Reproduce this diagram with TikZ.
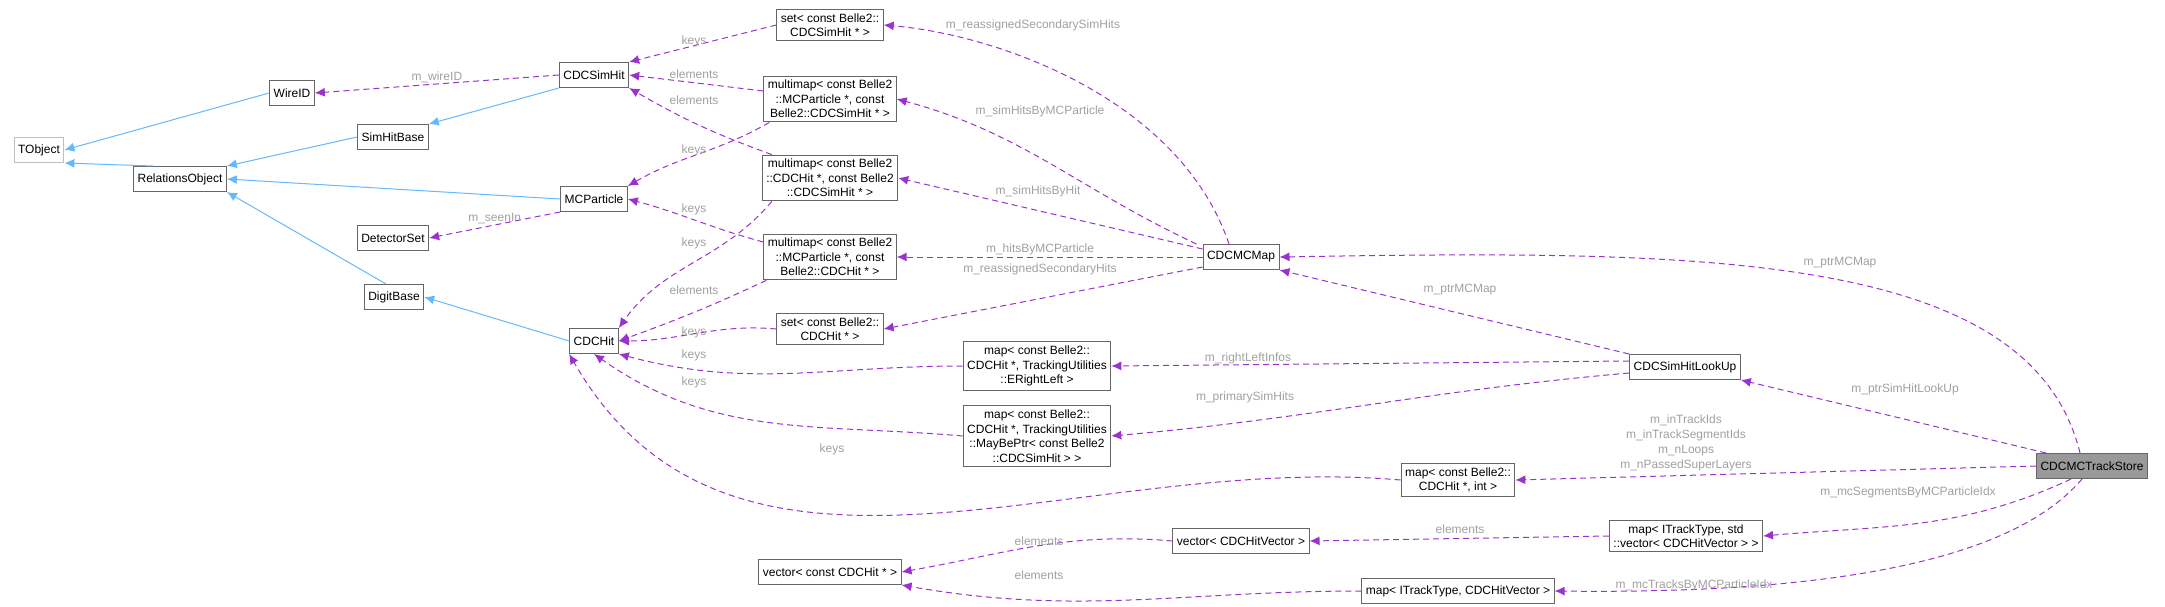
\documentclass[tikz,border=0pt]{standalone}
\usepackage{fontspec}
\setmainfont{Liberation Sans}
\usetikzlibrary{arrows.meta}
\definecolor{pur}{HTML}{9A32CD}
\definecolor{blu}{HTML}{63B8FF}
\definecolor{lab}{HTML}{A0A0A0}
\begin{document}
\begin{tikzpicture}[x=1pt,y=-1pt,
 box/.style={draw=black!60,line width=1pt,fill=white,align=center,inner sep=4pt,minimum height=25pt,font=\fontsize{12}{14.5}\selectfont},
 inh/.style={draw=blu,line width=1pt,-{Latex[length=10pt,width=9pt]}},
 use/.style={draw=pur,line width=1pt,dash pattern=on 6pt off 4pt,-{Latex[length=10pt,width=9pt]}},
 lb/.style={text=lab,font=\fontsize{12}{14.5}\selectfont,align=center,inner sep=1pt}]
\useasboundingbox (0,0) rectangle (2165,607);
\node[box,draw=black!25] (tobj) at (39,150) {TObject};
\node[box] (rel) at (180,179) {RelationsObject};
\node[box] (wire) at (292,93) {WireID};
\node[box] (shb) at (393,137) {SimHitBase};
\node[box] (csh) at (594,75) {CDCSimHit};
\node[box] (mcp) at (594,199) {MCParticle};
\node[box] (det) at (393,238) {DetectorSet};
\node[box] (dig) at (394,297) {DigitBase};
\node[box] (hit) at (594,341) {CDCHit};
\node[box] (vch) at (830,572) {vector< const CDCHit * >};
\node[box] (ssh) at (830,25) {set< const Belle2::\\CDCSimHit * >};
\node[box] (mm1) at (830,99) {multimap< const Belle2\\::MCParticle *, const\\ Belle2::CDCSimHit * >};
\node[box] (mm2) at (830,178) {multimap< const Belle2\\::CDCHit *, const Belle2\\::CDCSimHit * >};
\node[box] (mm3) at (830,257) {multimap< const Belle2\\::MCParticle *, const\\ Belle2::CDCHit * >};
\node[box] (sh) at (830,329) {set< const Belle2::\\CDCHit * >};
\node[box] (erl) at (1037,366) {map< const Belle2::\\CDCHit *, TrackingUtilities\\::ERightLeft >};
\node[box] (mbp) at (1037,436) {map< const Belle2::\\CDCHit *, TrackingUtilities\\::MayBePtr< const Belle2\\::CDCSimHit > >};
\node[box] (map) at (1241,257) {CDCMCMap};
\node[box] (mint) at (1458,480) {map< const Belle2::\\CDCHit *, int >};
\node[box] (vhv) at (1241,541) {vector< CDCHitVector >};
\node[box] (mtv) at (1458,591) {map< ITrackType, CDCHitVector >};
\node[box] (lu) at (1685,367) {CDCSimHitLookUp};
\node[box,fill=black!40] (ts) at (2092,466) {CDCMCTrackStore};
\node[box] (mts) at (1686,536) {map< ITrackType, std\\::vector< CDCHitVector > >};
% inheritance
\draw[inh] (wire.west) -- (tobj.east);
\draw[inh] (rel.north west) ++(20,0) -- (tobj.south east);
\draw[inh] (shb.west) -- (rel.north east);
\draw[inh] (csh.south west) -- (shb.north east);
\draw[inh] (mcp.west) -- (rel.east);
\draw[inh] (dig.north) ++(-8,0) -- (rel.south east);
\draw[inh] (hit.west) -- (dig.east);
% usage
\draw[use] (csh.west) -- node[lb,above]{m\_wireID} (wire.east);
\draw[use] (ssh.west) -- (csh.north east);
\node[lb] at (694,41) {keys};
\draw[use] (mm1.west) ++(0,-8) -- (csh.east);
\node[lb] at (694,74) {elements};
\draw[use] (mm1.south west) ++(6,0) to[out=-150,in=30] (mcp.north east);
\node[lb] at (694,150) {keys};
\draw[use] (mm2.north west) ++(10,0) to[out=160,in=-30] (csh.south east);
\node[lb] at (694,100) {elements};
\draw[use] (mm2.south west) ++(10,0) to[out=-130,in=55] (hit.north east);
\node[lb] at (694,243) {keys};
\draw[use] (mm3.west) ++(0,-15) to[out=165,in=-15] (mcp.east);
\node[lb] at (694,209) {keys};
\draw[use] (mm3.south west) ++(3,0) to[out=-155,in=20] (hit.east);
\node[lb] at (694,290) {elements};
\draw[use] (sh.west) to[out=175,in=0] (hit.east);
\node[lb] at (694,332) {keys};
\draw[use] (erl.west) to[out=180,in=-15] (hit.south east);
\node[lb] at (694,355) {keys};
\draw[use] (mbp.west) to[out=175,in=-35] (hit.south);
\node[lb] at (694,382) {keys};
\draw[use] (mint.west) to[out=175,in=-60] (hit.south west);
\node[lb] at (832,449) {keys};
\draw[use] (mcp.south west) -- node[lb,above]{m\_seenIn} (det.east);
\draw[use] (map.north) ++(-12,0) .. controls (1180,100) and (1000,35) .. (ssh.east);
\node[lb] at (1033,25) {m\_reassignedSecondarySimHits};
\draw[use] (map.north west) ++(-6,0) to[out=155,in=-15] (mm1.east);
\node[lb] at (1040,111) {m\_simHitsByMCParticle};
\draw[use] (map.west) ++(0,-8) -- (mm2.east);
\node[lb] at (1038,191) {m\_simHitsByHit};
\draw[use] (map.west) -- (mm3.east);
\node[lb] at (1040,249) {m\_hitsByMCParticle};
\draw[use] (map.west) ++(0,10) -- (sh.east);
\node[lb] at (1040,269) {m\_reassignedSecondaryHits};
\draw[use] (lu.north west) -- (map.south east);
\node[lb] at (1460,290) {m\_ptrMCMap};
\draw[use] (lu.west) ++(0,-6) -- (erl.east);
\node[lb] at (1248,358) {m\_rightLeftInfos};
\draw[use] (lu.west) ++(0,6) to[out=185,in=5] (mbp.east);
\node[lb] at (1245,397) {m\_primarySimHits};
\draw[use] (ts.north) ++(-12,0) .. controls (2030,250) and (1700,250) .. (map.east);
\node[lb] at (1840,263) {m\_ptrMCMap};
\draw[use] (ts.north west) ++(10,0) -- (lu.south east);
\node[lb] at (1905,389) {m\_ptrSimHitLookUp};
\draw[use] (ts.west) ++(0,0) -- (mint.east);
\node[lb,font=\fontsize{12}{15}\selectfont] at (1686,443) {m\_inTrackIds\\m\_inTrackSegmentIds\\m\_nLoops\\m\_nPassedSuperLayers};
\draw[use] (ts.south west) ++(35,0) to[out=-155,in=5] (mts.east);
\node[lb] at (1908,492) {m\_mcSegmentsByMCParticleIdx};
\draw[use] (ts.south) ++(-10,0) .. controls (2030,540) and (1900,595) .. (mtv.east);
\node[lb] at (1694,585) {m\_mcTracksByMCParticleIdx};
\draw[use] (mts.west) -- (vhv.east);
\node[lb] at (1460,529) {elements};
\draw[use] (vhv.west) to[out=175,in=10] (vch.east);
\node[lb] at (1039,541) {elements};
\draw[use] (mtv.west) to[out=180,in=-10] (vch.south east);
\node[lb] at (1039,575) {elements};
\end{tikzpicture}
\end{document}
